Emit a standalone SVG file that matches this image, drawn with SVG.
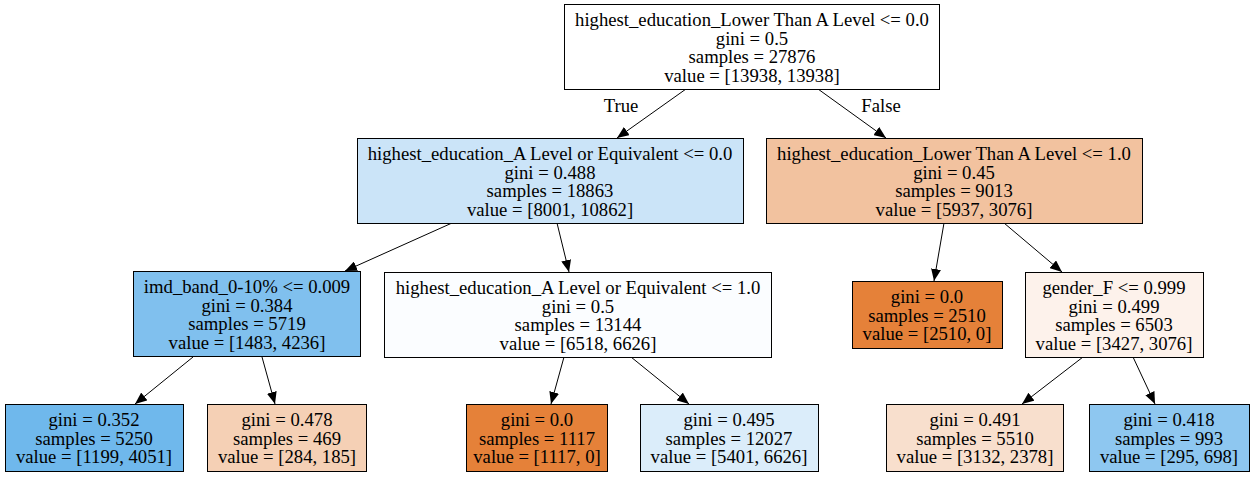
<svg xmlns="http://www.w3.org/2000/svg" width="1254" height="477" viewBox="0 0 1254 477">
<defs>
<marker id="ah" markerUnits="userSpaceOnUse" markerWidth="12" markerHeight="10" viewBox="0 0 12 10" refX="12" refY="5" orient="auto">
<path d="M0,0 L12,5 L0,10 Z" fill="#000"/>
</marker>
<style>
.box{stroke:#000;stroke-width:1}
text{font-family:"Liberation Serif","Times New Roman",serif;font-size:18.7px;fill:#000;text-anchor:middle}
.edge{stroke:#000;stroke-width:1;fill:none;marker-end:url(#ah)}
</style>
</defs>
<rect width="1254" height="477" fill="#fff"/>
<g id="edges">
<line class="edge" x1="686" y1="89" x2="617" y2="138"/>
<line class="edge" x1="818" y1="89" x2="886" y2="138"/>
<line class="edge" x1="452" y1="223" x2="345" y2="271"/>
<line class="edge" x1="557" y1="223" x2="569" y2="272"/>
<line class="edge" x1="944" y1="223" x2="934" y2="281"/>
<line class="edge" x1="1004" y1="223" x2="1062" y2="272"/>
<line class="edge" x1="193" y1="357" x2="135" y2="404"/>
<line class="edge" x1="262" y1="357" x2="275" y2="404"/>
<line class="edge" x1="564" y1="357" x2="551" y2="404"/>
<line class="edge" x1="631" y1="357" x2="689" y2="404"/>
<line class="edge" x1="1083" y1="357" x2="1022" y2="404"/>
<line class="edge" x1="1133" y1="357" x2="1155" y2="404"/>
<text x="621" y="112">True</text>
<text x="881" y="112">False</text>
</g>
<g id="n0">
<rect class="box" x="564.5" y="4.5" width="375" height="85" fill="#ffffff"/>
<text x="752" y="26">highest_education_Lower Than A Level &lt;= 0.0</text>
<text x="752" y="44.5">gini = 0.5</text>
<text x="752" y="63">samples = 27876</text>
<text x="752" y="81.5">value = [13938, 13938]</text>
</g>
<g id="n1">
<rect class="box" x="357.5" y="138.5" width="386" height="85" fill="#cbe4f8"/>
<text x="550" y="160">highest_education_A Level or Equivalent &lt;= 0.0</text>
<text x="550" y="178.5">gini = 0.488</text>
<text x="550" y="197">samples = 18863</text>
<text x="550" y="215.5">value = [8001, 10862]</text>
</g>
<g id="n2">
<rect class="box" x="133.5" y="271.5" width="227" height="85" fill="#80c0ee"/>
<text x="247" y="293">imd_band_0-10% &lt;= 0.009</text>
<text x="247" y="311.5">gini = 0.384</text>
<text x="247" y="330">samples = 5719</text>
<text x="247" y="348.5">value = [1483, 4236]</text>
</g>
<g id="n3">
<rect class="box" x="5.5" y="404.5" width="178" height="67" fill="#6fb8ec"/>
<text x="94" y="426">gini = 0.352</text>
<text x="94" y="444.5">samples = 5250</text>
<text x="94" y="463">value = [1199, 4051]</text>
</g>
<g id="n4">
<rect class="box" x="207.5" y="404.5" width="159" height="67" fill="#f5d0b5"/>
<text x="287" y="426">gini = 0.478</text>
<text x="287" y="444.5">samples = 469</text>
<text x="287" y="463">value = [284, 185]</text>
</g>
<g id="n5">
<rect class="box" x="384.5" y="272.5" width="387" height="85" fill="#fbfdff"/>
<text x="578" y="294">highest_education_A Level or Equivalent &lt;= 1.0</text>
<text x="578" y="312.5">gini = 0.5</text>
<text x="578" y="331">samples = 13144</text>
<text x="578" y="349.5">value = [6518, 6626]</text>
</g>
<g id="n6">
<rect class="box" x="466.5" y="404.5" width="141" height="67" fill="#e58139"/>
<text x="537" y="426">gini = 0.0</text>
<text x="537" y="444.5">samples = 1117</text>
<text x="537" y="463">value = [1117, 0]</text>
</g>
<g id="n7">
<rect class="box" x="640.5" y="404.5" width="178" height="67" fill="#dbedfa"/>
<text x="729" y="426">gini = 0.495</text>
<text x="729" y="444.5">samples = 12027</text>
<text x="729" y="463">value = [5401, 6626]</text>
</g>
<g id="n8">
<rect class="box" x="766.5" y="138.5" width="376" height="85" fill="#f2c29f"/>
<text x="954" y="160">highest_education_Lower Than A Level &lt;= 1.0</text>
<text x="954" y="178.5">gini = 0.45</text>
<text x="954" y="197">samples = 9013</text>
<text x="954" y="215.5">value = [5937, 3076]</text>
</g>
<g id="n9">
<rect class="box" x="852.5" y="281.5" width="150" height="67" fill="#e58139"/>
<text x="927" y="303">gini = 0.0</text>
<text x="927" y="321.5">samples = 2510</text>
<text x="927" y="340">value = [2510, 0]</text>
</g>
<g id="n10">
<rect class="box" x="1025.5" y="272.5" width="178" height="85" fill="#fdf2eb"/>
<text x="1114" y="294">gender_F &lt;= 0.999</text>
<text x="1114" y="312.5">gini = 0.499</text>
<text x="1114" y="331">samples = 6503</text>
<text x="1114" y="349.5">value = [3427, 3076]</text>
</g>
<g id="n11">
<rect class="box" x="886.5" y="404.5" width="177" height="67" fill="#f8dfcd"/>
<text x="975" y="426">gini = 0.491</text>
<text x="975" y="444.5">samples = 5510</text>
<text x="975" y="463">value = [3132, 2378]</text>
</g>
<g id="n12">
<rect class="box" x="1089.5" y="404.5" width="160" height="67" fill="#8ec7f0"/>
<text x="1169" y="426">gini = 0.418</text>
<text x="1169" y="444.5">samples = 993</text>
<text x="1169" y="463">value = [295, 698]</text>
</g>
</svg>
